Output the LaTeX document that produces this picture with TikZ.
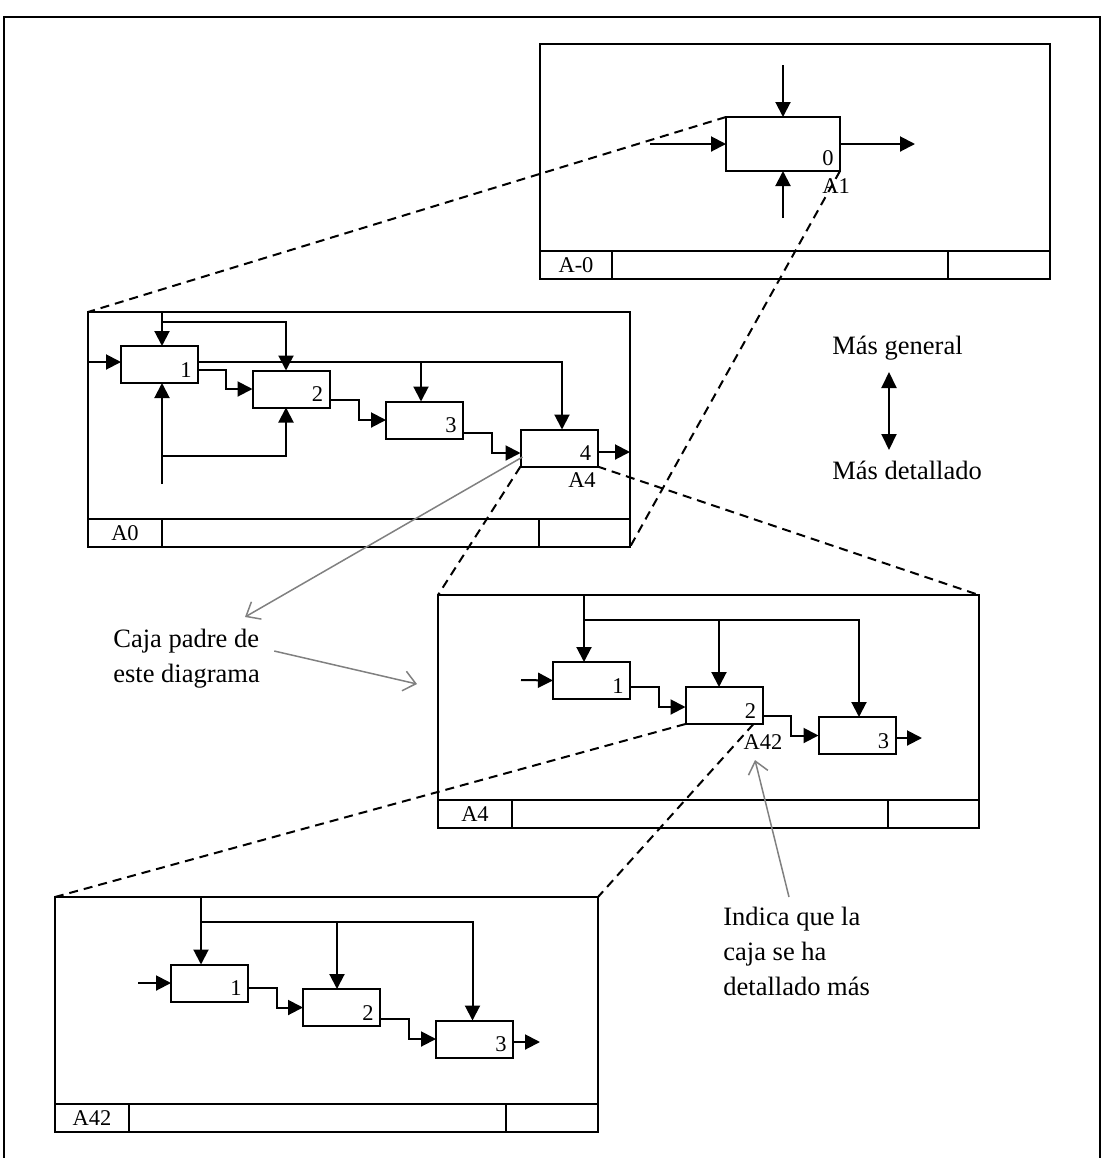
\documentclass[tikz,border=0pt]{standalone}
\usepackage{fontspec}
\setmainfont{Liberation Serif}
\usetikzlibrary{arrows.meta}
% title strip of a sheet: node, left cell width, right cell width, sheet code
\newcommand\sheetbar[4]{%
  \draw[ink] ([shift={(0,-28)}]#1.south west) -- ([shift={(0,-28)}]#1.south east);
  \draw[ink] ([shift={(#2,0)}]#1.south west) -- ([shift={(#2,-28)}]#1.south west);
  \draw[ink] ([shift={(-#3,0)}]#1.south east) -- ([shift={(-#3,-28)}]#1.south east);
  \node[lbl] at ([shift={(#2/2,-14)}]#1.south west) {#4};
}
% activity number in the lower right corner of a box
\newcommand\boxnum[2]{\node[lbl] at ([shift={(-12,-13)}]#1.south east) {#2};}
\begin{document}
\begin{tikzpicture}[x=0.5pt,y=-0.5pt,
  ink/.style={line width=1pt},
  sheet/.style={draw, line width=1pt, inner sep=0pt, outer sep=0pt},
  pbox/.style={draw, line width=1pt, inner sep=0pt, outer sep=0pt,
               minimum width=38.5pt, minimum height=18.5pt},
  flow/.style={line width=1pt, -{Triangle[length=7.5pt,width=7.5pt]}},
  zoomline/.style={line width=1pt, dash pattern=on 4.5pt off 3pt},
  note/.style={draw=gray, line width=0.75pt, -{Straight Barb[length=6pt,width=10pt]}},
  lbl/.style={font=\fontsize{11.25}{13}\selectfont, inner sep=0pt},
  txt/.style={font=\fontsize{13.25}{17.5}\selectfont, inner sep=0pt, align=left},
]
\useasboundingbox (0,0) rectangle (1102,1158);

% page frame
\draw[ink] (4,1170) -- (4,17) -- (1100,17) -- (1100,1170);

% ---------- context sheet A-0 ----------
\node[sheet, minimum width=255pt, minimum height=117.5pt] (s0) at (795,161.5) {};
\sheetbar{s0}{72}{102}{A-0}
\node[pbox, minimum width=57pt, minimum height=27pt] (p0) at (783,144) {};
\boxnum{p0}{0}
\node[lbl] at (836,186) {A1};
\coordinate (p0c) at (783,65);
\coordinate (p0m) at (783,218);
\coordinate (p0i) at (650,144);
\coordinate (p0o) at (915,144);
\draw[flow] (p0c) -- (p0.north);
\draw[flow] (p0m) -- (p0.south);
\draw[flow] (p0i) -- (p0.west);
\draw[flow] (p0.east) -- (p0o);

% ---------- sheet A0 ----------
\node[sheet, minimum width=271pt, minimum height=117.5pt] (s1) at (359,429.5) {};
\sheetbar{s1}{74}{91}{A0}
\node[pbox] (p1) at (159.5,364.5) {};
\node[pbox] (p2) at (291,389) {};
\node[pbox] (p3) at (424.5,420) {};
\node[pbox] (p4) at (559,448) {};
\boxnum{p1}{1}\boxnum{p2}{2}\boxnum{p3}{3}\boxnum{p4}{4}
\node[lbl] at (582,480) {A4};
\coordinate (a0in) at (88,362);
\coordinate (a0k) at (162,312);
\coordinate (a0kj) at (162,322);
\coordinate (a0j3) at (421,362);
\coordinate (a0x1) at (226,370);
\coordinate (a0m) at (162,484);
\coordinate (a0mj) at (162,456);
\coordinate (a0x2) at (359,400);
\coordinate (a0x3) at (492,433);
\coordinate (a0out) at (630,452);
\draw[flow] (a0in) -- (a0in -| p1.west);
\draw[flow] (a0k) -- (a0k |- p1.north);
\draw[flow] (a0kj) -| ([shift={(-5,0)}]p2.north);
\draw[flow] ([shift={(0,-2.5)}]p1.east) -| ([shift={(3,0)}]p4.north);
\draw[flow] (a0j3) -- (a0j3 |- p3.north);
\draw[flow] ([shift={(0,5.5)}]p1.east) -- (a0x1) |- (p2.west);
\draw[flow] (a0m) -- (a0m |- p1.south);
\draw[flow] (a0mj) -| ([shift={(-5,0)}]p2.south);
\draw[flow] ([shift={(0,11)}]p2.east) -- (a0x2) |- (p3.west);
\draw[flow] ([shift={(0,13)}]p3.east) -- (a0x3) |- ([shift={(0,5)}]p4.west);
\draw[flow] ([shift={(0,4)}]p4.east) -- (a0out);

% ---------- sheet A4 ----------
\node[sheet, minimum width=270.5pt, minimum height=116.5pt] (s2) at (708.5,711.5) {};
\sheetbar{s2}{74}{91}{A4}
\node[pbox] (q1) at (591.5,680.5) {};
\node[pbox] (q2) at (724,705.5) {};
\node[pbox] (q3) at (857,735.5) {};
\boxnum{q1}{1}\boxnum{q2}{2}\boxnum{q3}{3}
\node[lbl] at (763,742) {A42};
\coordinate (a4k) at (584,595);
\coordinate (a4kj) at (584,620);
\coordinate (a4j2) at (719,620);
\coordinate (a4in) at (521,680);
\coordinate (a4x1) at (659,687);
\coordinate (a4x2) at (791,716);
\coordinate (a4out) at (922,738);
\draw[flow] (a4k) -- (a4k |- q1.north);
\draw[flow] (a4kj) -| ([shift={(2,0)}]q3.north);
\draw[flow] (a4j2) -- (a4j2 |- q2.north);
\draw[flow] (a4in) -- (q1.west);
\draw[flow] ([shift={(0,6.5)}]q1.east) -- (a4x1) |- ([shift={(0,1.5)}]q2.west);
\draw[flow] ([shift={(0,10.5)}]q2.east) -- (a4x2) |- (q3.west);
\draw[flow] ([shift={(0,2.5)}]q3.east) -- (a4out);

% ---------- sheet A42 ----------
\node[sheet, minimum width=271.5pt, minimum height=117.5pt] (s3) at (326.5,1014.5) {};
\sheetbar{s3}{74}{92}{A42}
\node[pbox] (r1) at (209.5,983) {};
\node[pbox] (r2) at (341.5,1007.5) {};
\node[pbox] (r3) at (474.5,1039) {};
\boxnum{r1}{1}\boxnum{r2}{2}\boxnum{r3}{3}
\coordinate (a42k) at (201,897);
\coordinate (a42kj) at (201,922);
\coordinate (a42j2) at (337,922);
\coordinate (a42in) at (138,983);
\coordinate (a42x1) at (277,988);
\coordinate (a42x2) at (409,1019);
\coordinate (a42out) at (540,1042);
\draw[flow] (a42k) -- (a42k |- r1.north);
\draw[flow] (a42kj) -| ([shift={(-2,0)}]r3.north);
\draw[flow] (a42j2) -- (a42j2 |- r2.north);
\draw[flow] (a42in) -- (r1.west);
\draw[flow] ([shift={(0,5)}]r1.east) -- (a42x1) |- (r2.west);
\draw[flow] ([shift={(0,11.5)}]r2.east) -- (a42x2) |- (r3.west);
\draw[flow] ([shift={(0,3)}]r3.east) -- (a42out);

% ---------- decomposition links ----------
\draw[zoomline] (p0.north west) -- (s1.north west);
\draw[zoomline] (p0.south east) -- (s1.south east);
\draw[zoomline] (p4.south west) -- (s2.north west);
\draw[zoomline] (p4.south east) -- (s2.north east);
\draw[zoomline] (q2.south west) -- (s3.north west);
\draw[zoomline] ([shift={(-9,0)}]q2.south east) -- (s3.north east);

% ---------- level legend ----------
\node[txt, anchor=west] (tg) at (832,348) {Más general};
\node[txt, anchor=west] (td) at (832,470) {Más detallado};
\coordinate (vu) at (889,372);
\coordinate (vd) at (889,450);
\draw[line width=1pt, {Triangle[length=8pt,width=7.5pt]}-{Triangle[length=8pt,width=7.5pt]}] (vu) -- (vd);

% ---------- annotations ----------
\node[txt, anchor=west] (tp) at (113,659) {Caja padre de\\este diagrama};
\coordinate (g1e) at (245,617);
\coordinate (g2e) at (417,684);
\draw[note] ([shift={(2,9)}]p4.west) -- (g1e);
\draw[note] ([shift={(14,-8)}]tp.east) -- (g2e);
\node[txt, anchor=north west] (ti) at (723,907) {Indica que la\\caja se ha\\detallado más};
\coordinate (g3s) at (789,897);
\coordinate (g3e) at (755,760);
\draw[note] (g3s) -- (g3e);
\end{tikzpicture}
\end{document}
